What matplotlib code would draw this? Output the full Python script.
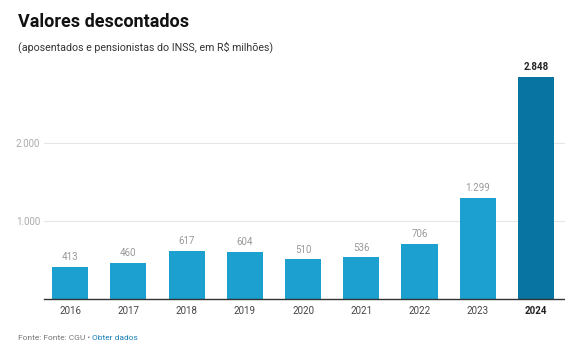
import matplotlib
matplotlib.use("Agg")
import matplotlib.pyplot as plt

plt.rcParams['font.family'] = ['Roboto', 'DejaVu Sans']

## Data
years = ["2016", "2017", "2018", "2019", "2020", "2021", "2022", "2023", "2024"]
values = [413, 460, 617, 604, 510, 536, 706, 1299, 2848]
value_labels = ["413", "460", "617", "604", "510", "536", "706", "1.299", "2.848"]
yticks = [1000, 2000]
ytick_labels = ["1.000", "2.000"]

light = "#1ba0d0"
dark = "#0874a1"

fig = plt.figure(figsize=(5.65, 3.5), dpi=100)
ax = fig.add_axes([44 / 565, 1 - 299 / 350, 1 - 44 / 565, 234 / 350])

x = list(range(len(years)))
colors = [light] * (len(years) - 1) + [dark]
ax.bar(x, values, width=0.62, color=colors, zorder=2)

# value labels over the bars
for i, (v, lab) in enumerate(zip(values, value_labels)):
    last = i == len(years) - 1
    ax.text(i, v + 60, lab, ha="center", va="bottom", fontsize=7,
            color="#222222" if last else "#999999",
            fontweight="bold" if last else "normal")

ax.set_xlim(-0.45, 8.5)
ax.set_ylim(0, 3000)
ax.set_yticks(yticks)
ax.set_yticklabels(ytick_labels)
ax.set_xticks(x)
ax.set_xticklabels(years)
for i, t in enumerate(ax.get_xticklabels()):
    t.set_color("#444444")
    if i == len(years) - 1:
        t.set_fontweight("bold")
        t.set_color("#222222")

ax.grid(axis="y", color="#e6e6e6", linewidth=0.8, zorder=0)
for s in ["top", "right", "left"]:
    ax.spines[s].set_visible(False)
ax.spines["bottom"].set_color("#333333")
ax.spines["bottom"].set_linewidth(1.0)
ax.tick_params(axis="y", length=0, labelsize=7, labelcolor="#aaaaaa", pad=0)
ax.tick_params(axis="x", length=0, labelsize=7, pad=5)
# left-align y tick labels at the figure margin
for t in ax.get_yticklabels():
    t.set_horizontalalignment("left")
    t.set_x(-28 / 521)

fig.text(18 / 565, 1 - 22 / 350, "Valores descontados", fontsize=13,
         fontweight="bold", color="#111111", va="center")
fig.text(18 / 565, 1 - 47 / 350, "(aposentados e pensionistas do INSS, em R$ milhões)",
         fontsize=7.7, color="#333333", va="center")

foot = fig.text(18 / 565, 1 - 338 / 350, "Fonte: Fonte: CGU • ", fontsize=6,
                color="#777777", va="center")
fig.canvas.draw()
bb = foot.get_window_extent()
fig.text(bb.x1 / fig.bbox.width, 1 - 338 / 350, "Obter dados", fontsize=6,
         color="#1a7fb5", va="center")

fig.savefig("out.png", dpi=100)
